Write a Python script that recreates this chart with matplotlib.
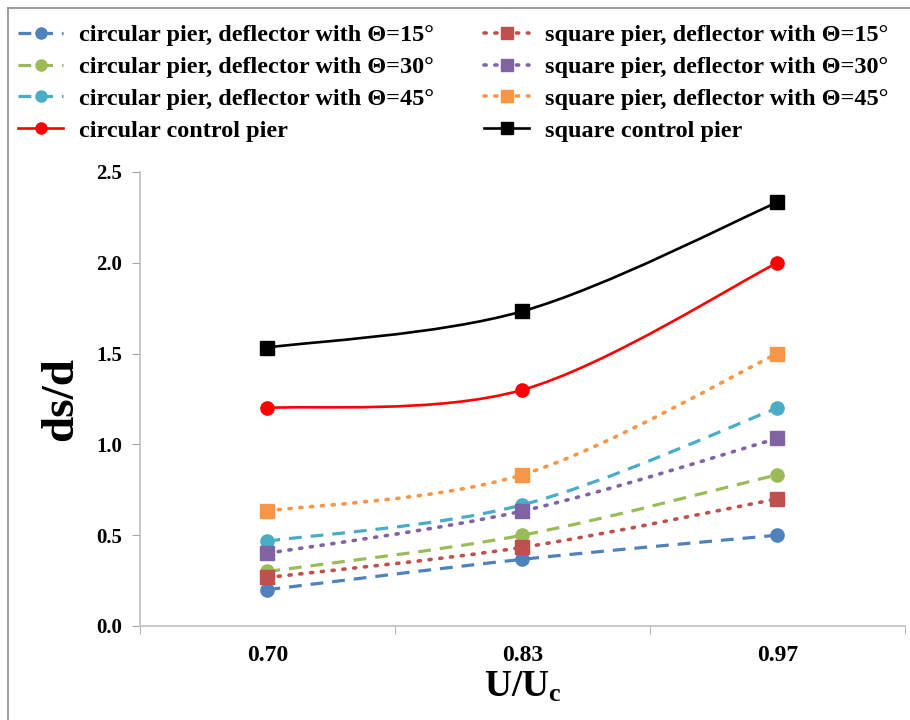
import matplotlib
matplotlib.use("Agg")
import matplotlib.pyplot as plt
from matplotlib.path import Path
from matplotlib.patches import PathPatch
from matplotlib.lines import Line2D
import numpy as np

plt.rcParams['font.family'] = ['Liberation Serif', 'DejaVu Serif']
plt.rcParams['font.weight'] = 'bold'
plt.rcParams['mathtext.fontset'] = 'custom'
plt.rcParams['mathtext.rm'] = 'Liberation Serif:bold'
plt.rcParams['mathtext.bf'] = 'Liberation Serif:bold'
plt.rcParams['mathtext.it'] = 'Liberation Serif:bold'

categories = ['0.70', '0.83', '0.97']

circ_15 = [0.2, 0.367, 0.5]
circ_30 = [0.3, 0.5, 0.833]
circ_45 = [0.467, 0.667, 1.2]
sq_15 = [0.267, 0.433, 0.7]
sq_30 = [0.4, 0.633, 1.033]
sq_45 = [0.633, 0.833, 1.5]
circ_ctrl = [1.2, 1.3, 2.0]
sq_ctrl = [1.533, 1.733, 2.333]

# (label, values, color, linestyle, marker)
circ_series = [
    ('circular pier, deflector with \u0398=15\u00b0', circ_15, '#4F81BD', 'dash', 'o'),
    ('circular pier, deflector with \u0398=30\u00b0', circ_30, '#9BBB59', 'dash', 'o'),
    ('circular pier, deflector with \u0398=45\u00b0', circ_45, '#4BACC6', 'dash', 'o'),
    ('circular control pier', circ_ctrl, '#FF0000', 'solid', 'o'),
]
sq_series = [
    ('square pier, deflector with \u0398=15\u00b0', sq_15, '#C0504D', 'dot', 's'),
    ('square pier, deflector with \u0398=30\u00b0', sq_30, '#8064A2', 'dot', 's'),
    ('square pier, deflector with \u0398=45\u00b0', sq_45, '#F79646', 'dot', 's'),
    ('square control pier', sq_ctrl, '#000000', 'solid', 's'),
]

styles = {'dash': (0, (4, 2.8)), 'dot': (0, (0.6, 2.4)), 'solid': '-'}
widths = {'dash': 2.3, 'dot': 2.6, 'solid': 1.9}


def smooth_path(xs, ys):
    # Excel-like smoothed line: cubic bezier through the points (Catmull-Rom)
    pts = np.column_stack([xs, ys]).astype(float)
    n = len(pts)
    verts = [pts[0]]
    codes = [Path.MOVETO]
    for i in range(n - 1):
        p0 = pts[i - 1] if i > 0 else pts[i]
        p1 = pts[i]
        p2 = pts[i + 1]
        p3 = pts[i + 2] if i + 2 < n else pts[i + 1]
        c1 = p1 + (p2 - p0) / 6.0
        c2 = p2 - (p3 - p1) / 6.0
        verts += [c1, c2, p2]
        codes += [Path.CURVE4] * 3
    return Path(verts, codes)


fig = plt.figure(figsize=(9.1, 7.2), dpi=100)
ax = fig.add_axes([0.1538, 0.1306, 0.8407, 0.6306])

x = np.arange(len(categories))


def draw(group):
    hs = []
    for label, vals, color, ls, mk in group:
        lw = widths[ls]
        cap = 'round' if ls == 'dot' else 'butt'
        patch = PathPatch(smooth_path(x, vals), facecolor='none', edgecolor=color,
                          lw=lw, linestyle=styles[ls], capstyle=cap, zorder=2)
        ax.add_patch(patch)
        ax.plot(x, vals, linestyle='none', marker=mk, color=color, markersize=9.5, zorder=3)
        hs.append(Line2D([], [], color=color, lw=lw, linestyle=styles[ls], marker=mk,
                         markersize=8, dash_capstyle=cap))
    return hs


circ_handles = draw(circ_series)
sq_handles = draw(sq_series)

ax.set_xlim(-0.5, 2.5)
ax.set_ylim(0, 2.5)
yt = np.arange(0, 2.51, 0.5)
ax.set_yticks(yt)
ax.set_yticklabels([f'{v:.1f}' for v in yt], fontsize=15, fontweight='bold')
ax.set_xticks(x)
ax.set_xticklabels(categories, fontsize=17, fontweight='bold')
ax.set_xticks([-0.5, 0.5, 1.5, 2.5], minor=True)
ax.tick_params(axis='x', which='major', length=0, pad=14)
ax.tick_params(axis='x', which='minor', length=6, color='#A6A6A6', direction='out')
ax.tick_params(axis='y', length=6, color='#A6A6A6', direction='out', pad=7)

for side in ['top', 'right']:
    ax.spines[side].set_visible(False)
for side in ['left', 'bottom']:
    ax.spines[side].set_color('#BFBFBF')
    ax.spines[side].set_linewidth(1.2)

ax.set_ylabel('ds/d', fontsize=34, fontweight='bold', labelpad=10)
ax.set_xlabel(r'U/U$_\mathrm{c}$', fontsize=27, fontweight='bold', labelpad=2)

leg_kw = dict(loc='upper left', frameon=False, borderpad=0, borderaxespad=0,
              prop={'family': 'Liberation Serif', 'weight': 'bold', 'size': 17.5},
              handlelength=1.85, handletextpad=0.65, labelspacing=0.4)
leg1 = fig.legend(circ_handles, [s[0] for s in circ_series],
                  bbox_to_anchor=(0.020, 0.966), **leg_kw)
leg2 = fig.legend(sq_handles, [s[0] for s in sq_series],
                  bbox_to_anchor=(0.532, 0.966), **leg_kw)

# outer chart border (left and top visible)
fig.add_artist(Line2D([0.009, 0.009], [0, 0.989], color='#8C8C8C', lw=1.2,
                      transform=fig.transFigure))
fig.add_artist(Line2D([0.009, 1.0], [0.989, 0.989], color='#8C8C8C', lw=1.2,
                      transform=fig.transFigure))

fig.savefig('out.png', dpi=100)
